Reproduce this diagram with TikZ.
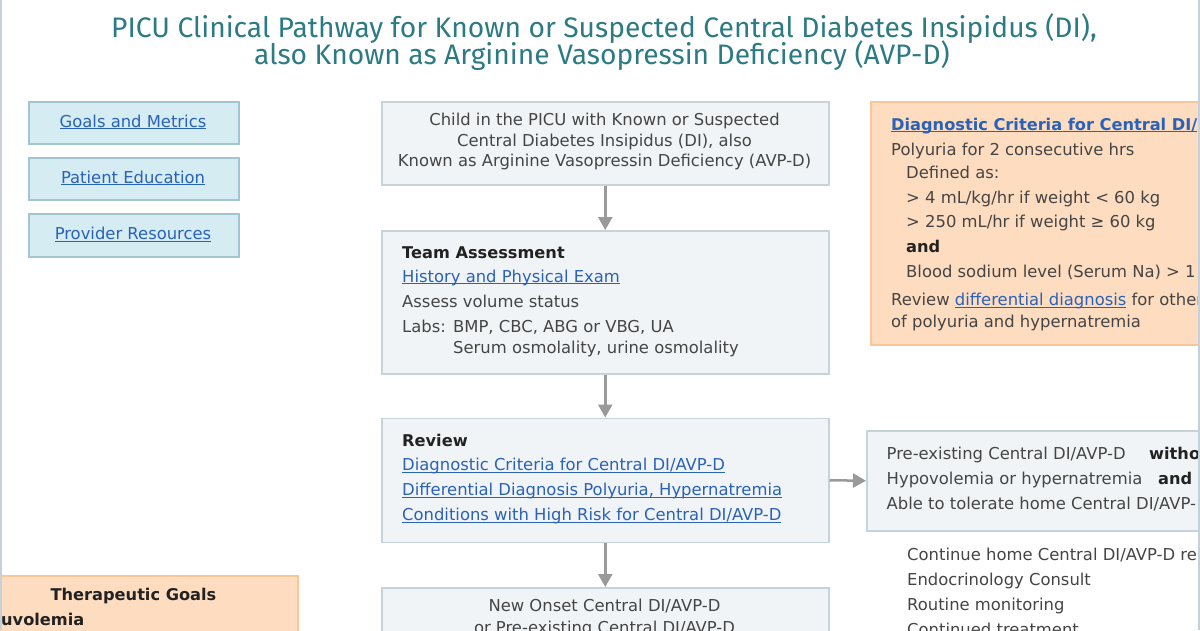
\documentclass[tikz,border=0pt]{standalone}
\usepackage{fontspec}
\setmainfont{DejaVu Sans}
\newfontfamily\titlefont{Fira Sans}
\usetikzlibrary{arrows.meta}
\definecolor{boxfill}{HTML}{F1F4F6}
\definecolor{boxline}{HTML}{C6D3DB}
\definecolor{lnkfill}{HTML}{D6ECF3}
\definecolor{lnkline}{HTML}{A2C5D3}
\definecolor{orfill}{HTML}{FEDCBF}
\definecolor{orline}{HTML}{F7C699}
\definecolor{lnk}{HTML}{2A62B8}
\definecolor{txt}{HTML}{454545}
\definecolor{bld}{HTML}{222222}
\definecolor{arr}{HTML}{9A9A9A}
\definecolor{teal}{HTML}{2C7B84}
\definecolor{edge}{HTML}{C5D0D8}
\newcommand\lk[1]{\textcolor{lnk}{\underline{\smash{#1}}}}
\begin{document}
\begin{tikzpicture}[x=1pt,y=-1pt,
  box/.style={draw=boxline,fill=boxfill,line width=1.5pt,anchor=north west,inner sep=0},
  lbox/.style={draw=lnkline,fill=lnkfill,line width=1.5pt,anchor=north west,inner sep=0,minimum width=210pt},
  obox/.style={draw=orline,fill=orfill,line width=1.5pt,anchor=north west,inner sep=0},
  tx/.style={anchor=base west,inner sep=0,font=\fontsize{16.4}{19}\selectfont,text=txt},
  tc/.style={tx,anchor=base},
  bd/.style={tx,text=bld,font=\fontsize{16.2}{19}\selectfont\bfseries},
  flow/.style={draw=arr,line width=2.5pt,-{Triangle[length=13pt,width=14pt]}},
  ttl/.style={anchor=base,inner sep=0,text=teal,font=\titlefont\fontsize{28.2}{32}\selectfont}]
\useasboundingbox (0,0) rectangle (1200,630);
\clip (0,0) rectangle (1200,630);
\fill[white] (0,0) rectangle (1200,630);
% title
\node[ttl] (title1) at (604,37) {PICU Clinical Pathway for Known or Suspected Central Diabetes Insipidus (DI),};
\node[ttl] (title2) at (602,64) {also Known as Arginine Vasopressin Deficiency (AVP-D)};
% left link boxes
\node[lbox,minimum height=42pt] (goals) at (28,101) {};
\node[tc] (goalsT) at (133,127) {\lk{Goals and Metrics}};
\node[lbox,minimum height=42pt] (edu) at (28,157) {};
\node[tc] (eduT) at (133,183) {\lk{Patient Education}};
\node[lbox,minimum height=43pt] (prov) at (28,213) {};
\node[tc] (provT) at (133,239.5) {\lk{Provider Resources}};
% center column
\node[box,minimum width=447pt,minimum height=83pt] (b1) at (381,101) {};
\node[tc] (b1a) at (604.5,125.5) {Child in the PICU with Known or Suspected};
\node[tc] (b1b) at (604.5,146) {Central Diabetes Insipidus (DI), also};
\node[tc] (b1c) at (604.5,166.5) {Known as Arginine Vasopressin Deficiency (AVP-D)};
\node[box,minimum width=447pt,minimum height=143pt] (b2) at (381,230) {};
\node[bd] (b2a) at (402,258) {Team Assessment};
\node[tx] (b2b) at (402,282) {\lk{History and Physical Exam}};
\node[tx] (b2c) at (402,307) {Assess volume status};
\node[tx] (b2d) at (402,332) {Labs:};
\node[tx] (b2d2) at (453,332) {BMP, CBC, ABG or VBG, UA};
\node[tx] (b2e) at (453,353) {Serum osmolality, urine osmolality};
\node[box,minimum width=447pt,minimum height=124pt] (b3) at (381,417.5) {};
\node[bd] (b3a) at (402,446.5) {Review};
\node[tx] (b3b) at (402,470.5) {\lk{Diagnostic Criteria for Central DI/AVP-D}};
\node[tx] (b3c) at (402,495.5) {\lk{Differential Diagnosis Polyuria, Hypernatremia}};
\node[tx] (b3d) at (402,520.5) {\lk{Conditions with High Risk for Central DI/AVP-D}};
\node[box,minimum width=447pt,minimum height=80pt] (b4) at (381,587) {};
\node[tc] (b4a) at (604.5,611) {New Onset Central DI/AVP-D};
\node[tc] (b4b) at (604.5,633) {or Pre-existing Central DI/AVP-D};
\draw[flow] (b1.south) -- (b2.north);
\draw[flow] (b2.south) -- (b3.north);
\draw[flow] (b3.south) -- (b4.north);
% right column
\node[obox,minimum width=345pt,minimum height=243pt] (crit) at (870,101) {};
\node[bd] (c1) at (891,130) {\lk{Diagnostic Criteria for Central DI/}};
\node[tx] (c2) at (891,155) {Polyuria for 2 consecutive hrs};
\node[tx] (c3) at (906,178) {Defined as:};
\node[tx] (c4) at (906,203) {> 4 mL/kg/hr if weight < 60 kg};
\node[tx] (c5) at (906,227) {> 250 mL/hr if weight ≥ 60 kg};
\node[bd] (c6) at (906,252) {and};
\node[tx] (c7) at (906,277) {Blood sodium level (Serum Na) > 1};
\node[tx] (c8) at (891,305.5) {Review \lk{differential diagnosis} for other};
\node[tx] (c9) at (891,327) {of polyuria and hypernatremia};
\node[box,minimum width=345pt,minimum height=100pt] (b5) at (866,430) {};
\node[tx] (b5a) at (886.5,459) {Pre-existing Central DI/AVP-D};
\node[bd] (b5b) at (1149,459) {witho};
\node[tx] (b5c) at (886.5,484) {Hypovolemia or hypernatremia};
\node[bd] (b5d) at (1158,484) {and};
\node[tx] (b5e) at (886.5,509) {Able to tolerate home Central DI/AVP-};
\draw[flow] (b3.east) -- (b5.west);
\node[tx] (r1) at (907,560.5) {Continue home Central DI/AVP-D re};
\node[tx] (r2) at (907,585.5) {Endocrinology Consult};
\node[tx] (r3) at (907,610.5) {Routine monitoring};
\node[tx] (r4) at (907,635) {Continued treatment};
% bottom left
\node[obox,minimum width=310pt,minimum height=80pt] (goalsbox) at (-13,575) {};
\node[bd,anchor=base] (g1) at (133.5,600) {Therapeutic Goals};
\node[bd] (g2) at (1,625) {uvolemia};
% page edges
\draw[edge,line width=2pt] (1,0) -- (1,630);
\draw[edge,line width=2pt] (1198.5,0) -- (1198.5,630);
\end{tikzpicture}
\end{document}
